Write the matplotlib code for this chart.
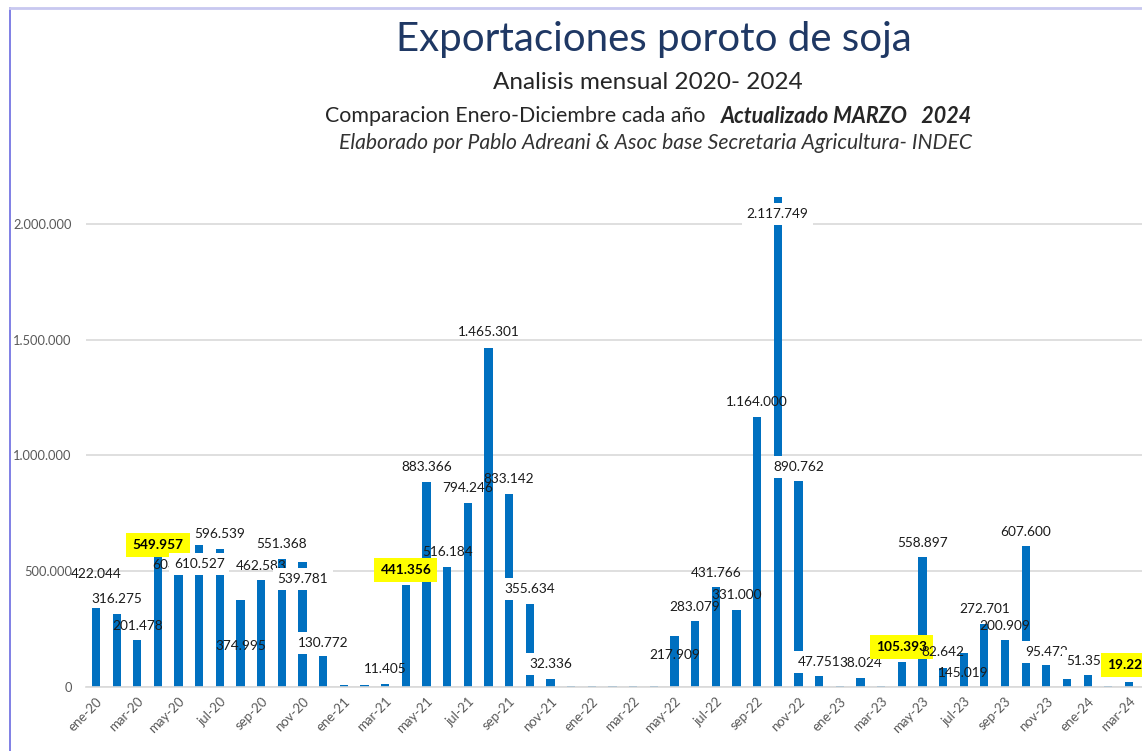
import matplotlib
matplotlib.use("Agg")
import matplotlib.pyplot as plt
from matplotlib.lines import Line2D
from matplotlib.ticker import FuncFormatter

# monthly soybean exports, tons (ene-20 .. mar-24)
month_abbr = ["ene", "feb", "mar", "abr", "may", "jun", "jul", "ago", "sep", "oct", "nov", "dic"]
years = ["20", "21", "22", "23", "24"]
months = [f"{m}-{y}" for y in years for m in month_abbr][:51]

exports = [
    340000, 316275, 201478, 603000, 549957, 610527, 596539, 374995, 462583, 551368, 539781, 130772,
    7000, 7000, 11405, 441356, 883366, 516184, 794246, 1465301, 833142, 355634, 32336, 4000,
    3000, 2000, 3000, 2000, 217909, 283079, 431766, 331000, 1164000, 2117749, 890762, 47751,
    2000, 38024, 2000, 105393, 558897, 82642, 145019, 272701, 200909, 607600, 95472, 33000,
    51356, 2000, 19227,
]

# data labels as they sit on the original sheet (many were moved by hand)
label_text = [
    "422.044", "316.275", "201.478", "549.957", "603.418", "610.527", "596.539", "374.995",
    "462.583", "551.368", "539.781", "130.772", "11.405", "441.356", "883.366", "516.184",
    "794.246", "1.465.301", "833.142", "355.634", "32.336", "217.909", "283.079", "431.766",
    "331.000", "1.164.000", "2.117.749", "890.762", "47.751", "38.024", "105.393", "558.897",
    "82.642", "145.019", "272.701", "200.909", "607.600", "95.472", "51.356", "19.227",
]
label_month = [
    0, 1, 2, 3, 3.95, 5, 6, 7, 8, 9, 10, 11, 14, 15, 16, 17, 18, 19, 20, 21, 22, 28, 29, 30,
    31, 32, 33, 34, 35, 37, 39, 40, 41, 42, 43, 44, 45, 46, 48, 50,
]
label_level = [
    487, 379, 262, 612, 526, 530, 660, 176, 522, 617, 465, 189, 76, 504, 949, 582, 859, 1533,
    898, 422, 98, 137, 344, 491, 396, 1230, 2043, 949, 107, 102, 172, 621, 150, 59, 336, 262,
    669, 150, 111, 94,
]
white_labels = {"610.527", "539.781", "130.772", "355.634", "32.336", "2.117.749", "890.762",
                "47.751", "95.472", "51.356"}
yellow_labels = {"549.957", "441.356", "105.393", "19.227"}

BLUE = "#0070C0"
GRID = "#D9D9D9"
FONT = "Lato"

fig = plt.figure(figsize=(11.42, 7.51), dpi=100)
ax = fig.add_axes([0.075, 0.0856, 0.925, 0.6934])

x = list(range(len(months)))
ax.bar(x, exports, width=0.4, color=BLUE, zorder=2)

ax.set_xlim(-0.5, 50.63)
ax.set_ylim(0, 2250000)
ax.set_yticks([0, 500000, 1000000, 1500000, 2000000])
ax.yaxis.set_major_formatter(FuncFormatter(lambda v, p: f"{int(v):,}".replace(",", ".")))
ax.grid(axis="y", color=GRID, linewidth=1.2, zorder=0)
ax.set_axisbelow(True)

ax.set_xticks(x[::2])
ax.set_xticklabels(months[::2], rotation=45, ha="right", va="top",
                   rotation_mode="anchor", fontsize=9.5, color="#595959", family=FONT)
for t in ax.get_yticklabels():
    t.set_family(FONT)
    t.set_fontsize(9.3)
    t.set_color("#595959")
ax.tick_params(length=0)
ax.tick_params(axis="x", pad=6)
ax.tick_params(axis="y", pad=10)

for s in ["top", "right", "left"]:
    ax.spines[s].set_visible(False)
ax.spines["bottom"].set_color(GRID)
ax.spines["bottom"].set_linewidth(1.2)

for txt, xm, lv in zip(label_text, label_month, label_level):
    kw = dict(ha="center", va="center", fontsize=9.8, family=FONT, color="#1a1a1a", zorder=5)
    if txt in white_labels:
        kw["bbox"] = dict(boxstyle="square,pad=0.35", fc="white", ec="none")
    elif txt in yellow_labels:
        kw["bbox"] = dict(boxstyle="square,pad=0.45", fc="#FFFF00", ec="none")
        kw["fontweight"] = "bold"
        kw["color"] = "black"
    ax.text(xm, lv * 1000, txt, **kw)

# titles
fig.text(0.573, 0.948, "Exportaciones poroto de soja", ha="center", va="center",
         fontsize=29, color="#1F3864", family=FONT)
fig.text(0.567, 0.890, "Analisis mensual 2020- 2024", ha="center", va="center",
         fontsize=17.5, color="#262626", family=FONT)
fig.text(0.618, 0.845, "Comparacion Enero-Diciembre cada año", ha="right", va="center",
         fontsize=15.4, color="#262626", family=FONT)
fig.text(0.631, 0.845, "Actualizado MARZO   2024", ha="left", va="center",
         fontsize=15.5, color="#262626", family=FONT, fontweight="bold", style="italic")
fig.text(0.574, 0.809, "Elaborado por Pablo Adreani & Asoc base Secretaria Agricultura- INDEC",
         ha="center", va="center", fontsize=15.2, color="#333333", family=FONT, style="italic")

# frame lines of the original screenshot
fig.add_artist(Line2D([0.0088, 0.0088], [0, 0.99], transform=fig.transFigure,
                      color="#6A6AE0", linewidth=1.2))
fig.add_artist(Line2D([0.0088, 1], [0.99, 0.99], transform=fig.transFigure,
                      color="#C8C8F0", linewidth=2))

fig.savefig("out.png", dpi=100)
plt.close(fig)
